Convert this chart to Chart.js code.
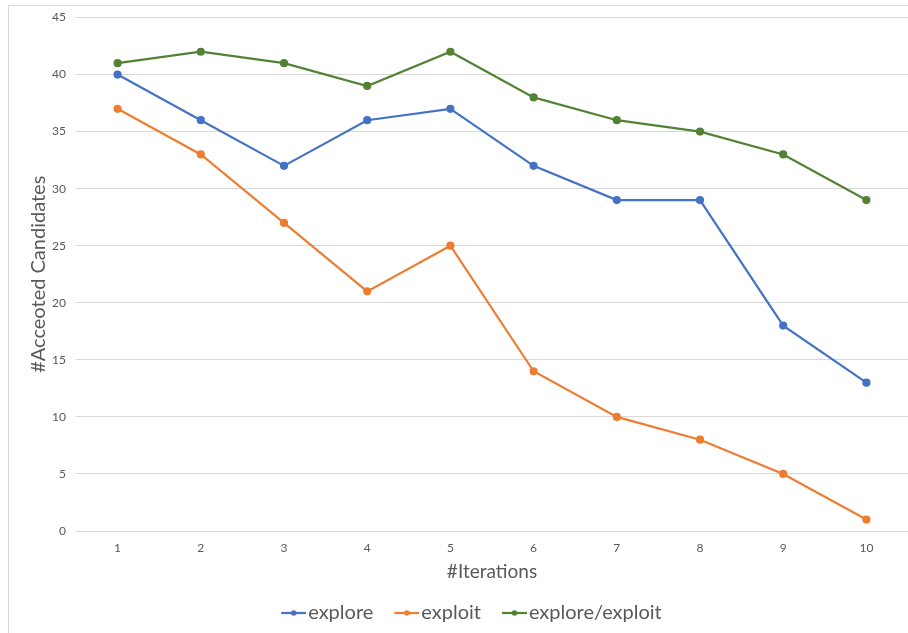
<!DOCTYPE html>
<html><head><meta charset="utf-8">
<script src="https://cdn.jsdelivr.net/npm/chart.js@4/dist/chart.umd.min.js"></script>
<style>
html,body{margin:0;padding:0;background:#fff;overflow:hidden}
#wrap{position:relative;width:908px;height:633px;overflow:hidden}
#frame{position:absolute;left:8px;top:5px;width:960px;height:660px;border-left:1px solid #d9d9d9;border-top:1px solid #d9d9d9;box-sizing:border-box;pointer-events:none;z-index:2}
canvas{position:absolute;left:0;top:0}
</style></head>
<body><div id="wrap"><div id="frame"></div><canvas id="c" width="916" height="633"></canvas></div>
<script>
const categories = ['1','2','3','4','5','6','7','8','9','10'];
const seriesNames = ['explore','exploit','explore/exploit'];
const explore = [40,36,32,36,37,32,29,29,18,13];
const exploit = [37,33,27,21,25,14,10,8,5,1];
const exploreExploit = [41,42,41,39,42,38,36,35,33,29];
const colors = ['#4472C4','#ED7D31','#548235'];
const FONT = 'Lato, "Liberation Sans", sans-serif';

function legendIcon(color){
  const c = document.createElement('canvas');
  c.width = 41; c.height = 10;
  const g = c.getContext('2d');
  g.strokeStyle = color; g.lineWidth = 2.2;
  g.beginPath(); g.moveTo(16,5); g.lineTo(41,5); g.stroke();
  g.fillStyle = color; g.beginPath(); g.arc(28.5,5,2.8,0,Math.PI*2); g.fill();
  return c;
}

const data = [explore, exploit, exploreExploit];
new Chart(document.getElementById('c'), {
  type: 'line',
  data: {
    labels: categories,
    datasets: seriesNames.map((n,i)=>({
      label: n, data: data[i], borderColor: colors[i], backgroundColor: colors[i],
      borderWidth: 2.2, pointRadius: 3, pointHoverRadius: 3, tension: 0,
      pointStyle: 'circle'
    }))
  },
  options: {
    responsive: false, animation: false,
    layout: { padding: { top: 17.5, right: 8, left: 27, bottom: 0 } },
    plugins: {
      tooltip: { enabled: false },
      legend: {
        position: 'bottom',
        labels: {
          usePointStyle: true, pointStyleWidth: 25, color: '#595959', padding: 13,
          font: { family: FONT, size: 20 },
          generateLabels: (chart) => chart.data.datasets.map((d,i)=>({
            text: d.label, pointStyle: legendIcon(colors[i]), fillStyle: colors[i],
            strokeStyle: colors[i], lineWidth: 0, datasetIndex: i, fontColor: '#595959'
          }))
        }
      }
    },
    scales: {
      x: {
        offset: true,
        grid: { display: false, drawTicks: false },
        border: { display: false },
        ticks: { color: '#595959', font: { family: FONT, size: 12 }, padding: 10 },
        title: { display: true, text: '#Iterations', color: '#595959', font: { family: FONT, size: 19 }, padding: { top: 4, bottom: 6.6 } },
        afterFit: (s) => { s.height = 59; }
      },
      y: {
        min: 0, max: 45,
        ticks: { stepSize: 5, color: '#595959', font: { family: FONT, size: 12 }, padding: 10 },
        grid: { color: '#d9d9d9', drawTicks: false, lineWidth: 1 },
        border: { display: false },
        title: { display: true, text: '#Acceoted Candidates', color: '#595959', font: { family: FONT, size: 20 }, padding: 0 },
        afterFit: (s) => { s.width = 49; }
      }
    }
  }
});
</script></body></html>
